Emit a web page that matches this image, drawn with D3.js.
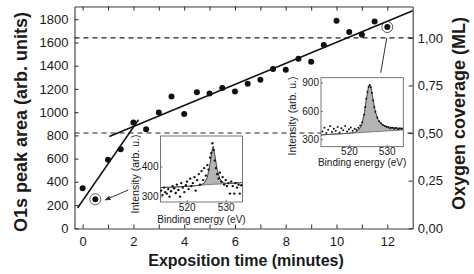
<!DOCTYPE html>
<html lang="en">
<head>
<meta charset="UTF-8">
<title>O1s peak area vs exposition time</title>
<script src="https://d3js.org/d3.v7.min.js"></script>
<style>
  body { margin: 0; background: #fff; }
  text { font-family: "Liberation Sans", Arial, sans-serif; fill: #1a1a1a; }
  .axis .domain, .axis .tick line { stroke: #3a3a3a; stroke-width: 1.1; }
  .inset .domain, .inset .tick line { stroke: #555; stroke-width: 0.8; }
</style>
</head>
<body>
<script>
// Main series: O1s peak area vs exposition time
const times = [0, 0.5, 1, 1.5, 2, 2.5, 3, 3.5, 4, 4.5, 5, 5.5, 6, 6.5, 7, 7.5, 8, 8.5, 9, 9.5, 10, 10.5, 11, 11.5, 12];
const o1s = [345, 250, 590, 680, 910, 853, 997, 1135, 985, 1172, 1160, 1207, 1178, 1244, 1279, 1371, 1365, 1460, 1434, 1578, 1787, 1690, 1666, 1781, 1733];
const circled = [0.5, 12];

// Linear fits (two regimes)
const fitA_t = [-0.2, 2.2], fitA_v = [175, 935];
const fitB_t = [1.05, 13], fitB_v = [790, 1873];

// Coverage reference levels (right axis)
const coverageLevels = [0.5, 1.0];
const fullMonolayer = 1640;   // O1s area for 1 ML

// Tick values
const xTicks = d3.range(0, 13, 1);
const xLabels = [0, 2, 4, 6, 8, 10, 12];
const yTicks = [0, 200, 400, 600, 800, 1000, 1200, 1400, 1600, 1800];
const covTicks = [0, 0.25, 0.5, 0.75, 1.0];

// Inset 1 (t = 0.5 min) spectrum
const ins1E = [513.5, 513.8, 514.2, 514.5, 514.9, 515.3, 515.6, 516.0, 516.4, 516.8, 517.2, 517.5, 517.9, 518.3, 518.6, 519.0, 519.4, 519.8, 520.1, 520.5, 520.9, 521.2, 521.6, 522.0, 522.3, 522.7, 523.1, 523.4, 523.8, 524.2, 524.5, 524.9, 525.3, 525.6, 526.0, 526.3, 526.6, 526.9, 527.2, 527.5, 527.8, 528.2, 528.5, 528.9, 529.2, 529.6, 530.0, 530.3, 530.7, 531.1, 531.4, 531.8, 532.2, 532.5, 532.9, 533.3, 533.6, 534.0];
const ins1V = [320, 305, 330, 315, 310, 325, 300, 318, 335, 328, 312, 340, 322, 300, 345, 330, 315, 338, 350, 325, 360, 335, 345, 365, 320, 355, 375, 340, 385, 355, 395, 370, 405, 390, 430, 445, 478, 455, 420, 395, 375, 360, 380, 350, 365, 340, 355, 335, 345, 310, 350, 335, 310, 345, 330, 340, 310, 338];
const fit1E = [513.3, 517, 520, 522, 523.5, 524.5, 525.3, 526, 526.5, 526.8, 527.2, 527.8, 528.5, 529.3, 530.5, 532, 534.3];
const fit1V = [330, 332, 334, 336, 338, 345, 365, 410, 455, 468, 440, 390, 360, 346, 344, 345, 347];
const base1V = [330, 332, 334, 336, 338, 339, 339.5, 340, 340.5, 341, 341, 341.5, 342, 342.5, 343, 344, 347];

// Inset 2 (t = 12 min) spectrum
const ins2E = [513.0, 513.5, 514.0, 514.5, 515.0, 515.5, 516.0, 516.5, 517.0, 517.5, 518.0, 518.5, 519.0, 519.5, 520.0, 520.5, 521.0, 521.5, 522.0, 522.5, 523.0, 523.5, 524.0, 524.3, 524.6, 524.9, 525.2, 525.5, 525.8, 526.1, 526.4, 526.7, 527.0, 527.5, 528.0, 528.5, 529.0, 529.5, 530.0, 530.5, 531.0, 531.5, 532.0, 532.5, 533.0, 533.5, 534.0];
const ins2V = [380, 420, 365, 400, 440, 375, 410, 390, 430, 370, 415, 395, 440, 380, 405, 425, 390, 410, 400, 420, 445, 480, 560, 640, 730, 800, 855, 875, 850, 790, 710, 640, 590, 530, 490, 470, 450, 440, 430, 425, 415, 420, 410, 418, 405, 412, 410];
const fit2E = [512.6, 515, 518, 520, 521.5, 522.5, 523.3, 524, 524.6, 525.1, 525.5, 525.9, 526.4, 527, 527.7, 528.5, 529.5, 531, 533, 534.4];
const fit2V = [345, 351, 358, 363, 370, 395, 440, 560, 720, 840, 878, 840, 720, 590, 510, 465, 440, 425, 418, 415];
const base2V = [345, 351, 358, 363, 366, 369, 371, 372, 374, 375, 376, 377, 378, 380, 381, 383, 386, 389, 394, 398];

const W = 474, H = 274;
const plot = { left: 74.5, right: 412.7, top: 6.5, bottom: 228.5 };

const svg = d3.select("body").append("svg")
    .attr("width", W)
    .attr("height", H);

// Scales
const x = d3.scaleLinear().domain([-0.32, 13]).range([plot.left, plot.right]);
const y = d3.scaleLinear().domain([-2, 1910]).range([plot.bottom, plot.top]);
const yCov = d3.scaleLinear()
    .domain(y.domain().map(v => v / fullMonolayer))
    .range([plot.bottom, plot.top]);

// Axes (ticks point inward)
svg.append("g").attr("class", "axis")
    .attr("transform", `translate(0,${plot.bottom})`)
    .call(d3.axisBottom(x).tickValues(xTicks).tickSize(-4).tickSizeOuter(0).tickPadding(8)
        .tickFormat(d => xLabels.includes(d) ? d : ""))
    .call(g => g.selectAll("text").style("font-size", "13px"));

svg.append("g").attr("class", "axis")
    .attr("transform", `translate(0,${plot.top})`)
    .call(d3.axisTop(x).tickValues(xTicks).tickSize(-4).tickSizeOuter(0).tickFormat(""));

svg.append("g").attr("class", "axis")
    .attr("transform", `translate(${plot.left},0)`)
    .call(d3.axisLeft(y).tickValues(yTicks).tickSize(-4).tickSizeOuter(0).tickPadding(6)
        .tickFormat(d3.format("d")))
    .call(g => g.selectAll("text").style("font-size", "13px"));

svg.append("g").attr("class", "axis")
    .attr("transform", `translate(${plot.right},0)`)
    .call(d3.axisRight(yCov).tickValues(covTicks).tickSize(-4).tickSizeOuter(0).tickPadding(5)
        .tickFormat(d => d3.format(".2f")(d).replace(".", ",")))
    .call(g => g.selectAll("text").style("font-size", "13px"));

// Axis titles
svg.append("text")
    .attr("transform", `translate(26.5,122) rotate(-90)`)
    .attr("text-anchor", "middle")
    .style("font-size", "18px").style("font-weight", "bold")
    .text("O1s peak area (arb. units)");

svg.append("text")
    .attr("transform", `translate(465,113.5) rotate(-90)`)
    .attr("text-anchor", "middle")
    .style("font-size", "18px").style("font-weight", "bold")
    .text("Oxygen coverage (ML)");

svg.append("text")
    .attr("x", 246).attr("y", 266)
    .attr("text-anchor", "middle")
    .style("font-size", "16px").style("font-weight", "bold")
    .text("Exposition time (minutes)");

// Dashed coverage levels
svg.selectAll(".level")
    .data(coverageLevels)
    .enter().append("line")
    .attr("class", "level")
    .attr("x1", plot.left).attr("x2", plot.right)
    .attr("y1", d => yCov(d)).attr("y2", d => yCov(d))
    .attr("stroke", "#222").attr("stroke-width", 1.1)
    .attr("stroke-dasharray", "5,4");

// Fit lines
const fitLine = d3.line().x(d => x(d[0])).y(d => y(d[1]));
[[fitA_t, fitA_v], [fitB_t, fitB_v]].forEach(([t, v]) => {
    svg.append("path")
        .datum(t.map((d, i) => [d, v[i]]))
        .attr("d", fitLine)
        .attr("fill", "none")
        .attr("stroke", "#111")
        .attr("stroke-width", 1.5);
});

// Data points
const pts = times.map((t, i) => ({ t, v: o1s[i] }));
svg.selectAll(".dot")
    .data(pts)
    .enter().append("circle")
    .attr("class", "dot")
    .attr("cx", d => x(d.t))
    .attr("cy", d => y(d.v))
    .attr("r", 3)
    .attr("fill", "#111");

svg.selectAll(".ring")
    .data(pts.filter(d => circled.includes(d.t)))
    .enter().append("circle")
    .attr("class", "ring")
    .attr("cx", d => x(d.t))
    .attr("cy", d => y(d.v))
    .attr("r", 5.5)
    .attr("fill", "none")
    .attr("stroke", "#333")
    .attr("stroke-width", 0.8);

// Insets
function drawInset(cfg) {
    const g = svg.append("g").attr("class", "inset");
    const ix = d3.scaleLinear().domain(cfg.xDomain).range([cfg.box[0], cfg.box[1]]);
    const iy = d3.scaleLinear().domain(cfg.yDomain).range([cfg.box[3], cfg.box[2]]);

    g.append("rect")
        .attr("x", cfg.box[0]).attr("y", cfg.box[2])
        .attr("width", cfg.box[1] - cfg.box[0])
        .attr("height", cfg.box[3] - cfg.box[2])
        .attr("fill", "#fff")
        .attr("stroke", "#555").attr("stroke-width", 0.8);

    const fitPts = cfg.fitE.map((e, i) => ({ e, f: cfg.fitV[i], b: cfg.baseV[i] }));
    g.append("path")
        .datum(fitPts)
        .attr("d", d3.area().x(d => ix(d.e)).y0(d => iy(d.b)).y1(d => iy(d.f)))
        .attr("fill", "#b4b4b4");
    g.append("path")
        .datum(fitPts)
        .attr("d", d3.line().x(d => ix(d.e)).y(d => iy(d.f)))
        .attr("fill", "none").attr("stroke", "#333").attr("stroke-width", 0.9);
    g.append("path")
        .datum(fitPts)
        .attr("d", d3.line().x(d => ix(d.e)).y(d => iy(d.b)))
        .attr("fill", "none").attr("stroke", "#555").attr("stroke-width", 0.7);

    g.selectAll(".sp")
        .data(cfg.dotE.map((e, i) => [e, cfg.dotV[i]]))
        .enter().append("circle")
        .attr("cx", d => ix(d[0])).attr("cy", d => iy(d[1]))
        .attr("r", cfg.r).attr("fill", "#111");

    g.append("g")
        .attr("transform", `translate(0,${cfg.box[3]})`)
        .call(d3.axisBottom(ix).tickValues([520, 530]).tickSize(-2).tickSizeOuter(0).tickPadding(cfg.xPad))
        .call(a => a.select(".domain").remove())
        .call(a => a.selectAll("text").style("font-size", "10px"));
    g.append("g")
        .attr("transform", `translate(${cfg.box[0]},0)`)
        .call(d3.axisLeft(iy).tickValues(cfg.yTicks).tickSize(-2).tickSizeOuter(0).tickPadding(2))
        .call(a => a.select(".domain").remove())
        .call(a => a.selectAll("text").style("font-size", "10px"));

    g.append("text")
        .attr("x", (cfg.box[0] + cfg.box[1]) / 2).attr("y", cfg.xTitleY)
        .attr("text-anchor", "middle")
        .style("font-size", "10px")
        .text("Binding energy (eV)");
    g.append("text")
        .attr("transform", `translate(${cfg.yTitle[0]},${cfg.yTitle[1]}) rotate(-90)`)
        .attr("text-anchor", "middle")
        .style("font-size", "10.5px")
        .text("Intensity (arb. u.)");
}

drawInset({
    box: [160.5, 242.5, 136, 202],
    xDomain: [513.3, 534.3], yDomain: [282, 502],
    yTicks: [300, 400], xPad: 2,
    dotE: ins1E, dotV: ins1V, r: 1.2,
    fitE: fit1E, fitV: fit1V, baseV: base1V,
    xTitleY: 222.5, yTitle: [139, 174]
});

drawInset({
    box: [321, 403.3, 77.7, 146.7],
    xDomain: [512.6, 534.4], yDomain: [220, 952],
    yTicks: [300, 600, 900], xPad: 1.5,
    dotE: ins2E, dotV: ins2V, r: 1.0,
    fitE: fit2E, fitV: fit2V, baseV: base2V,
    xTitleY: 166, yTitle: [296, 116]
});

// Pointers from the insets to the circled points
svg.append("defs").append("marker")
    .attr("id", "arrow")
    .attr("viewBox", "0 0 10 10")
    .attr("refX", 9).attr("refY", 5)
    .attr("markerWidth", 6).attr("markerHeight", 6)
    .attr("orient", "auto")
    .append("path")
    .attr("d", "M0,1 L10,5 L0,9 z")
    .attr("fill", "#333");

svg.append("line")
    .attr("x1", x(1.8)).attr("y1", y(330))
    .attr("x2", x(0.89)).attr("y2", y(244))
    .attr("stroke", "#333").attr("stroke-width", 1)
    .attr("marker-end", "url(#arrow)");

svg.append("line")
    .attr("x1", x(11.74)).attr("y1", y(1339))
    .attr("x2", x(11.98)).attr("y2", y(1640))
    .attr("stroke", "#333").attr("stroke-width", 1);
</script>
</body>
</html>
